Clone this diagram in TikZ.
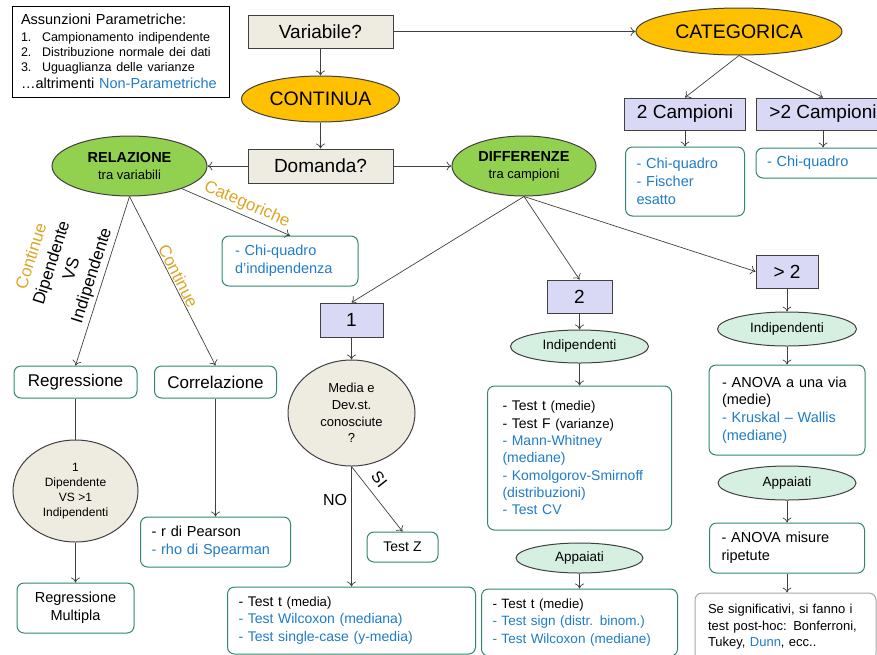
\documentclass[tikz,border=0pt]{standalone}
\usepackage{fontspec}
\setmainfont{Liberation Sans}
\usetikzlibrary{shapes.geometric,arrows.meta}
\definecolor{beige}{HTML}{EEECE1}
\definecolor{gold}{HTML}{FFC000}
\definecolor{leaf}{HTML}{92D050}
\definecolor{lilac}{HTML}{D9D9F5}
\definecolor{mint}{HTML}{D5EFE1}
\definecolor{boxline}{HTML}{31876B}
\definecolor{txtblue}{HTML}{1F7CC8}
\definecolor{ochre}{HTML}{DDA526}
\definecolor{linec}{HTML}{404040}
\newcommand{\fsz}[2]{\fontsize{#1}{#2}\selectfont}
\newcommand{\pn}[1]{{\fsz{13.2}{17}#1}}
\newcommand{\bl}[1]{\textcolor{txtblue}{#1}}

\begin{document}
\begin{tikzpicture}[x=1pt,y=-1pt]
	\tikzstyle{every node}+=[inner sep=0pt]
	\tikzstyle{qbox}=[draw=linec, fill=beige, line width=1pt, minimum width=145pt, minimum height=33pt, font=\fsz{19}{22}]
	\tikzstyle{oval}=[ellipse, draw=linec, line width=1pt]
	\tikzstyle{nbox}=[draw=linec, fill=lilac, line width=1pt, minimum height=33pt, font=\fsz{19}{22}]
	\tikzstyle{tbox}=[draw=boxline, fill=white, rounded corners=7pt, line width=1pt, align=left, font=\fsz{14.5}{18}]
	\tikzstyle{cbox}=[tbox, align=center]
	\tikzstyle{arr}=[draw=linec, line width=0.7pt, -{To[length=5pt,width=9pt]}]
	\tikzstyle{lab}=[font=\fsz{17}{21}, text=ochre]
	\useasboundingbox (0,0) rectangle (877,654);
	\node[draw=black, line width=0.8pt, minimum width=217pt, minimum height=91pt, text width=199pt, inner xsep=9pt, align=left, font=\fsz{14.5}{17}] (legend) at (120.5,51.5) {Assunzioni Parametriche:\\{\fsz{12.5}{15}\makebox[21pt][l]{1.}Campionamento indipendente}\\[-2pt]{\fsz{12.5}{15}\makebox[21pt][l]{2.}Distribuzione normale dei dati}\\[-2pt]{\fsz{12.5}{15}\makebox[21pt][l]{3.}Uguaglianza delle varianze}\\…altrimenti \bl{Non-Parametriche}};
	\node[qbox] (var) at (320.5,31.5) {Variabile?};
	\node[oval, fill=gold, minimum width=206pt, minimum height=47pt, font=\fsz{19.5}{22}] (cat) at (739,31.5) {CATEGORICA};
	\node[oval, fill=gold, minimum width=158pt, minimum height=46pt, font=\fsz{19.5}{22}] (cont) at (320.5,99) {CONTINUA};
	\node[qbox, minimum height=34pt] (dom) at (320.5,166) {Domanda?};
	\node[oval, fill=leaf, minimum width=155pt, minimum height=60pt, align=center, font=\fsz{14.5}{17}] (rel) at (129.5,166) {\textbf{RELAZIONE}\\{\fsz{13}{16}tra variabili}};
	\node[oval, fill=leaf, minimum width=144pt, minimum height=60pt, align=center, font=\fsz{14.5}{17}] (diff) at (524,166) {\textbf{DIFFERENZE}\\{\fsz{13}{16}tra campioni}};
	\node[nbox, minimum width=121pt, minimum height=32pt] (c2) at (685,114) {2 Campioni};
	\node[nbox, minimum width=134pt, minimum height=32pt] (cm2) at (823,114) {>2 Campioni};
	\node[tbox, text width=97pt, inner xsep=11pt, minimum height=69pt, text=txtblue] (chi2) at (685,181.5) {- Chi-quadro\\- Fischer\\esatto};
	\node[tbox, text width=112pt, inner xsep=11pt, minimum height=30pt, text=txtblue] (chim2) at (823,163) {- Chi-quadro};
	\node[tbox, text width=110pt, inner xsep=13pt, minimum height=50pt, text=txtblue] (chiind) at (290,261) {- Chi-quadro\\d'indipendenza};
	\node[cbox, minimum width=123pt, minimum height=32pt, font=\fsz{17}{20}] (reg) at (75.5,382) {Regressione};
	\node[cbox, minimum width=122pt, minimum height=32pt, font=\fsz{17}{20}] (corr) at (215.5,382) {Correlazione};
	\node[oval, fill=beige, minimum width=125pt, minimum height=102pt, align=center, font=\fsz{12}{15}] (dipell) at (75.5,491) {1\\Dipendente\\VS >1\\Indipendenti};
	\node[cbox, minimum width=117pt, minimum height=50pt] (regm) at (75.5,608) {Regressione\\Multipla};
	\node[tbox, text width=128pt, inner xsep=11pt, minimum height=50pt] (pear) at (215.5,542) {- r di Pearson\\\bl{- rho di Spearman}};
	\node[nbox, minimum width=63pt, minimum height=34pt] (one) at (351.5,320) {1};
	\node[nbox, minimum width=65pt] (two) at (579.5,296.5) {2};
	\node[nbox, minimum width=62pt] (gt2) at (787,271.5) {> 2};
	\node[oval, fill=beige, minimum width=127pt, minimum height=106pt, align=center, font=\fsz{13}{16.7}] (media) at (351.5,413) {Media e\\Dev.st.\\conosciute\\?};
	\node[cbox, minimum width=71pt, minimum height=30pt, font=\fsz{14}{17}] (testz) at (402.5,547) {Test Z};
	\node[tbox, text width=226pt, inner xsep=11pt, minimum height=67pt, font=\fsz{14}{17.5}] (testt) at (351.5,620.5) {- Test t \pn{(media)}\\\bl{- Test Wilcoxon (mediana)}\\\bl{- Test single-case (y-media)}};
	\node[oval, fill=mint, minimum width=138pt, minimum height=33pt, font=\fsz{13.5}{16}] (ind2) at (579.5,346.5) {Indipendenti};
	\node[tbox, text width=154pt, inner xsep=15pt, minimum height=144pt, font=\fsz{14}{17.3}] (box2) at (579.5,458) {- Test t \pn{(medie)}\\- Test F \pn{(varianze)}\\\bl{- Mann-Whitney}\\\bl{(mediane)}\\\bl{- Komolgorov-Smirnoff}\\\bl{(distribuzioni)}\\\bl{- Test CV}};
	\node[oval, fill=mint, minimum width=127pt, minimum height=30pt, font=\fsz{13.5}{16}] (app2) at (579.5,558) {Appaiati};
	\node[tbox, text width=174pt, inner xsep=11pt, minimum height=67pt, font=\fsz{13.5}{17.5}] (box2b) at (579.5,622.5) {- Test t \pn{(medie)}\\\bl{- Test sign (distr. binom.)}\\\bl{- Test Wilcoxon (mediane)}};
	\node[oval, fill=mint, minimum width=139pt, minimum height=34pt, font=\fsz{13.5}{16}] (ind3) at (787,329) {Indipendenti};
	\node[tbox, text width=130pt, inner xsep=13pt, minimum height=90pt, font=\fsz{14.5}{17.7}] (box3) at (787,410) {- ANOVA a una via\\(medie)\\\bl{- Kruskal – Wallis}\\\bl{(mediane)}};
	\node[oval, fill=mint, minimum width=138pt, minimum height=34pt, font=\fsz{13.5}{16}] (app3) at (787,483) {Appaiati};
	\node[tbox, text width=131pt, inner xsep=12pt, minimum height=50pt] (box3b) at (787,548) {- ANOVA misure\\ripetute};
	\node[tbox, draw=gray!70, text width=155pt, inner xsep=13pt, minimum height=68pt, font=\fsz{13}{16.5}] (box3c) at (785.5,627) {Se significativi, si fanno i\\test post-hoc: Bonferroni,\\Tukey, \bl{Dunn}, ecc..};
	\draw[arr] (var) -- (cont);
	\draw[arr] (var) -- (cat);
	\draw[arr] (cont) -- (dom);
	\draw[arr] (dom) -- (rel);
	\draw[arr] (dom) -- (diff);
	\draw[arr] (cat.south) -- (c2.north);
	\draw[arr] (cat.south) -- (cm2.north);
	\draw[arr] (c2) -- (chi2);
	\draw[arr] (cm2) -- (chim2);
	\draw[arr] (rel) -- (chiind.north) node[lab, sloped, above=3pt, pos=0.56] (lcat) {Categoriche};
	\draw[arr] (rel.south) -- (reg.north) node[sloped, above=3pt, pos=0.49, align=center, font=\fsz{17}{21}] (lvs) {\textcolor{ochre}{Continue}\\Dipendente\\VS\\Indipendente};
	\draw[arr] (rel.south) -- (corr.north) node[lab, sloped, above=1pt, pos=0.49] (lcont) {Continue};
	\draw[draw=linec, line width=0.7pt] (reg) -- (dipell);
	\draw[arr] (dipell) -- (regm);
	\draw[arr] (corr) -- (pear);
	\draw[arr] (diff.south) -- (one.north);
	\draw[arr] (diff.south) -- (two.north);
	\draw[arr] (diff.south) -- (gt2.west);
	\draw[arr] (one) -- (media);
	\draw[arr] (media.south) -- (testt.north) node[pos=0.28, left=4pt, font=\fsz{16}{19}] (lno) {NO};
	\draw[arr] (media.south) -- (testz.north) node[sloped, above=8pt, pos=0.33, font=\fsz{16}{19}] (lsi) {SI};
	\draw[arr] (two) -- (ind2);
	\draw[arr] (ind2) -- (box2);
	\draw[arr] (app2) -- (box2b);
	\draw[arr] (gt2) -- (ind3);
	\draw[arr] (ind3) -- (box3);
	\draw[arr] (app3) -- (box3b);
	\draw[arr] (box3b.south) -- (box3b.south |- box3c.north);
\end{tikzpicture}
\end{document}
